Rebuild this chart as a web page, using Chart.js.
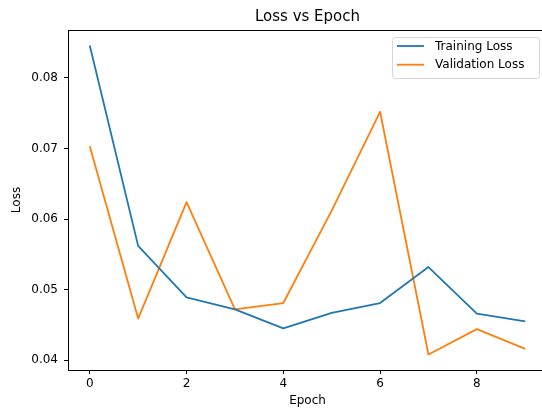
<!DOCTYPE html>
<html>
<head>
<meta charset="utf-8">
<script src="https://cdn.jsdelivr.net/npm/chart.js@4.4.1/dist/chart.umd.min.js"></script>
<style>
  html, body { margin: 0; padding: 0; background: #fff; overflow: hidden; }
  canvas { display: block; }
</style>
</head>
<body>
<canvas id="lossChart" width="548" height="410"></canvas>
<script>
// values
const epochs = [0, 1, 2, 3, 4, 5, 6, 7, 8, 9];
const trainLoss = [0.0846, 0.0562, 0.0489, 0.0472, 0.0445, 0.0467, 0.0481, 0.0532, 0.0466, 0.0455];
const valLoss = [0.0703, 0.0459, 0.0624, 0.0472, 0.0481, 0.0612, 0.0752, 0.0408, 0.0444, 0.0416];
const xTicks = [0, 2, 4, 6, 8];
const yTicks = [0.04, 0.05, 0.06, 0.07, 0.08];

const FONT = 'DejaVu Sans';

// matplotlib style 5% margins
const allY = trainLoss.concat(valLoss);
const yLo = Math.min(...allY), yHi = Math.max(...allY);
const yPad = (yHi - yLo) * 0.05;
const xPad = (epochs[epochs.length - 1] - epochs[0]) * 0.05;

const toPoints = vals => epochs.map((e, i) => ({ x: e, y: vals[i] }));

// frame, title and legend drawn like matplotlib
const mplDecor = {
    id: 'mplDecor',
    afterDraw(chart) {
        const ctx = chart.ctx;
        const a = chart.chartArea;
        ctx.save();

        // spines
        ctx.strokeStyle = '#000';
        ctx.lineWidth = 1;
        ctx.strokeRect(Math.round(a.left) + 0.5, Math.round(a.top) + 0.5,
            Math.round(a.right - a.left), Math.round(a.bottom - a.top));

        // title
        ctx.fillStyle = '#000';
        ctx.font = '15px "' + FONT + '"';
        ctx.textAlign = 'center';
        ctx.textBaseline = 'middle';
        ctx.fillText('Loss vs Epoch', (a.left + a.right) / 2, 17);

        // legend
        const bx = 392.5, by = 37.5, bw = 147, bh = 41, r = 3;
        ctx.beginPath();
        ctx.moveTo(bx + r, by);
        ctx.lineTo(bx + bw - r, by);
        ctx.arcTo(bx + bw, by, bx + bw, by + r, r);
        ctx.lineTo(bx + bw, by + bh - r);
        ctx.arcTo(bx + bw, by + bh, bx + bw - r, by + bh, r);
        ctx.lineTo(bx + r, by + bh);
        ctx.arcTo(bx, by + bh, bx, by + bh - r, r);
        ctx.lineTo(bx, by + r);
        ctx.arcTo(bx, by, bx + r, by, r);
        ctx.closePath();
        ctx.fillStyle = 'rgba(255,255,255,0.8)';
        ctx.fill();
        ctx.strokeStyle = '#d6d6d6';
        ctx.lineWidth = 1;
        ctx.stroke();

        ctx.font = '12px "' + FONT + '"';
        ctx.textAlign = 'left';
        chart.data.datasets.forEach((ds, i) => {
            const ly = 46 + i * 18.7;
            ctx.strokeStyle = ds.borderColor;
            ctx.lineWidth = ds.borderWidth;
            ctx.beginPath();
            ctx.moveTo(397, ly);
            ctx.lineTo(424, ly);
            ctx.stroke();
            ctx.fillStyle = '#000';
            ctx.fillText(ds.label, 435, ly + 0.5);
        });
        ctx.restore();
    }
};

const ctx = document.getElementById('lossChart').getContext('2d');
const lossChart = new Chart(ctx, {
    type: 'line',
    data: {
        datasets: [{
            label: 'Training Loss',
            data: toPoints(trainLoss),
            borderColor: '#1f77b4',
            borderWidth: 1.8,
            pointRadius: 0,
            tension: 0,
            borderJoinStyle: 'round'
        }, {
            label: 'Validation Loss',
            data: toPoints(valLoss),
            borderColor: '#ff7f0e',
            borderWidth: 1.8,
            pointRadius: 0,
            tension: 0,
            borderJoinStyle: 'round'
        }]
    },
    options: {
        responsive: false,
        animation: false,
        devicePixelRatio: 1,
        layout: { padding: { top: 30, right: 1, bottom: 0, left: 0 } },
        plugins: {
            legend: { display: false },
            title: { display: false },
            tooltip: { enabled: false }
        },
        scales: {
            x: {
                type: 'linear',
                min: epochs[0] - xPad,
                max: epochs[epochs.length - 1] + xPad,
                afterBuildTicks: s => { s.ticks = xTicks.map(v => ({ value: v })); },
                afterFit: s => { s.height = 40; },
                border: { display: false },
                grid: { drawOnChartArea: false, drawTicks: true, tickLength: 4, color: '#000', lineWidth: 1 },
                ticks: {
                    color: '#000',
                    padding: 3,
                    maxRotation: 0,
                    font: { family: FONT, size: 12 },
                    callback: v => String(v)
                },
                title: {
                    display: true,
                    text: 'Epoch',
                    color: '#000',
                    font: { family: FONT, size: 12 },
                    padding: { top: 0, bottom: 2 }
                }
            },
            y: {
                type: 'linear',
                min: yLo - yPad,
                max: yHi + yPad,
                afterBuildTicks: s => { s.ticks = yTicks.map(v => ({ value: v })); },
                afterFit: s => { s.width = 68; },
                border: { display: false },
                grid: { drawOnChartArea: false, drawTicks: true, tickLength: 4, color: '#000', lineWidth: 1 },
                ticks: {
                    color: '#000',
                    padding: 6,
                    font: { family: FONT, size: 12 },
                    callback: v => v.toFixed(2)
                },
                title: {
                    display: true,
                    text: 'Loss',
                    color: '#000',
                    font: { family: FONT, size: 12 },
                    padding: { top: 10, bottom: 0 }
                }
            }
        }
    },
    plugins: [mplDecor]
});
</script>
</body>
</html>
